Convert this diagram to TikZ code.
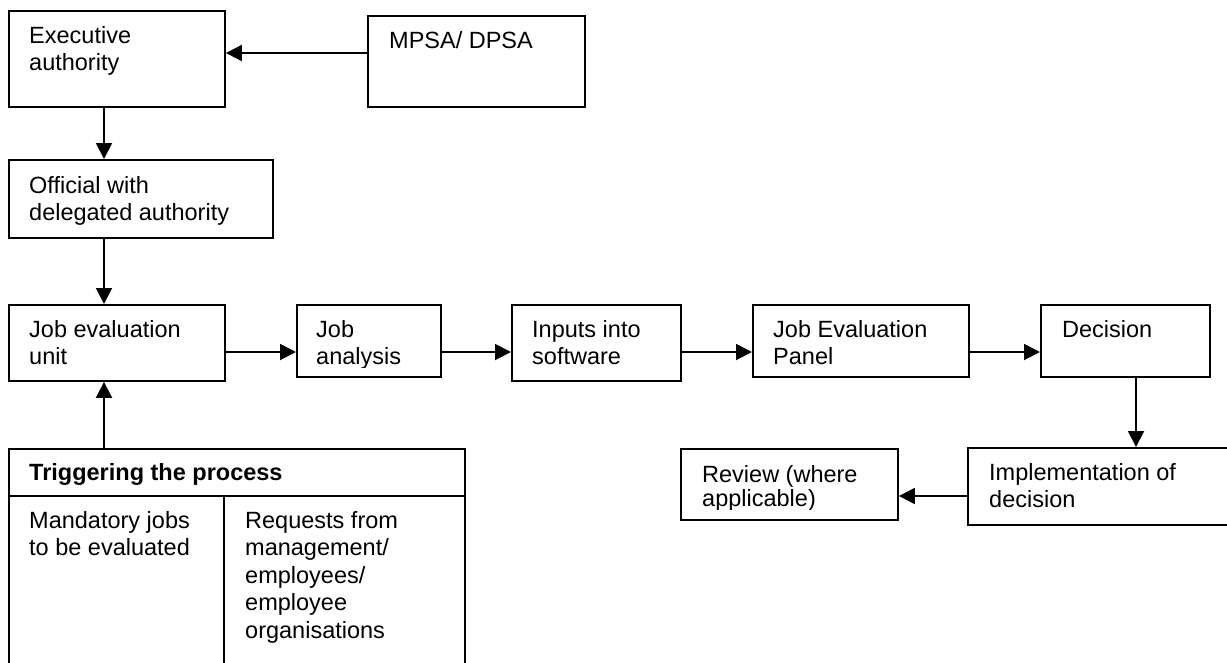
\documentclass[tikz,border=0pt]{standalone}
\usepackage{fontspec}
\setmainfont{Liberation Sans}
\usetikzlibrary{arrows.meta}
\begin{document}
\begin{tikzpicture}[x=1pt,y=-1pt,
  box/.style={draw, line width=1.9pt, rectangle, inner sep=0pt, anchor=north west},
  txt/.style={anchor=north west, inner sep=0pt, align=left, font=\fontsize{23.5}{27}\selectfont},
  arr/.style={line width=1.9pt, -{Triangle[length=16pt,width=16pt]}}]
\clip (0,0) rectangle (1227,662);
\fill[white] (0,0) rectangle (1227,662);

% guide lines for the connectors
\coordinate (toprow) at (0,53);
\coordinate (colA) at (104,0);
\coordinate (rowB) at (0,352);
\coordinate (colD) at (1136,0);
\coordinate (rowE) at (0,496);
\coordinate (hdr) at (0,496);
\coordinate (div) at (224,0);

% boxes
\node[box, minimum width=216pt, minimum height=96pt] (exec) at (8,10) {};
\node[box, minimum width=217pt, minimum height=91pt] (mpsa) at (367,15) {};
\node[box, minimum width=264pt, minimum height=78pt] (official) at (8,159) {};
\node[box, minimum width=216pt, minimum height=76pt] (unit) at (8,304) {};
\node[box, minimum width=144pt, minimum height=72pt] (ja) at (296,304) {};
\node[box, minimum width=169pt, minimum height=76pt] (inputs) at (511,304) {};
\node[box, minimum width=216pt, minimum height=72pt] (jep) at (752,304) {};
\node[box, minimum width=169pt, minimum height=72pt] (decision) at (1040,304) {};
\node[box, minimum width=300pt, minimum height=77pt] (impl) at (967,447) {};
\node[box, minimum width=217pt, minimum height=71pt] (review) at (680,448) {};
\node[box, minimum width=456pt, minimum height=260pt] (trig) at (8,448) {};
\draw[line width=1.9pt] (trig.west |- hdr) -- (trig.east |- hdr);
\draw[line width=1.9pt] (div |- hdr) -- (div |- trig.south);

% labels
\node[txt] (exectxt) at (29,25) {\rule{0pt}{18pt}Executive\\authority};
\node[txt] (mpsatxt) at (389,30) {\rule{0pt}{18pt}MPSA/ DPSA};
\node[txt] (officialtxt) at (29,175) {\rule{0pt}{18pt}Official with\\delegated authority};
\node[txt] (unittxt) at (29,319) {\rule{0pt}{18pt}Job evaluation\\unit};
\begin{scope}
  \clip (ja.north west) rectangle (ja.east |- 0,367);
  \node[txt] (jatxt) at (316,319) {\rule{0pt}{18pt}Job\\analysis};
\end{scope}
\node[txt] (inputstxt) at (532,319) {\rule{0pt}{18pt}Inputs into\\software};
\node[txt] (jeptxt) at (773,319) {\rule{0pt}{18pt}Job Evaluation\\Panel};
\node[txt] (decisiontxt) at (1062,319) {\rule{0pt}{18pt}Decision};
\node[txt] (impltxt) at (989,462) {\rule{0pt}{18pt}Implementation of\\decision};
\begin{scope}
  \clip (review.north west) rectangle (review.east |- 0,509);
  \node[txt, font=\fontsize{23.5}{24.5}\selectfont] (reviewtxt) at (702,464) {\rule{0pt}{18pt}Review (where\\applicable)};
\end{scope}
\node[txt, font=\fontsize{23.5}{27}\selectfont\bfseries] (trigtxt) at (29,462) {\rule{0pt}{18pt}Triggering the process};
\node[txt] (mandtxt) at (29,510) {\rule{0pt}{18pt}Mandatory jobs\\to be evaluated};
\node[txt, font=\fontsize{23.5}{27.5}\selectfont] (reqtxt) at (245,510) {\rule{0pt}{18pt}Requests from\\management/\\employees/\\employee\\organisations};

% connectors
\draw[arr] (mpsa.west |- toprow) -- (exec.east |- toprow);
\draw[arr] (exec.south -| colA) -- (official.north -| colA);
\draw[arr] (official.south -| colA) -- (unit.north -| colA);
\draw[arr] (trig.north -| colA) -- (unit.south -| colA);
\draw[arr] (unit.east |- rowB) -- (ja.west |- rowB);
\draw[arr] (ja.east |- rowB) -- (inputs.west |- rowB);
\draw[arr] (inputs.east |- rowB) -- (jep.west |- rowB);
\draw[arr] (jep.east |- rowB) -- (decision.west |- rowB);
\draw[arr] (decision.south -| colD) -- (impl.north -| colD);
\draw[arr] (impl.west |- rowE) -- (review.east |- rowE);
\end{tikzpicture}
\end{document}
